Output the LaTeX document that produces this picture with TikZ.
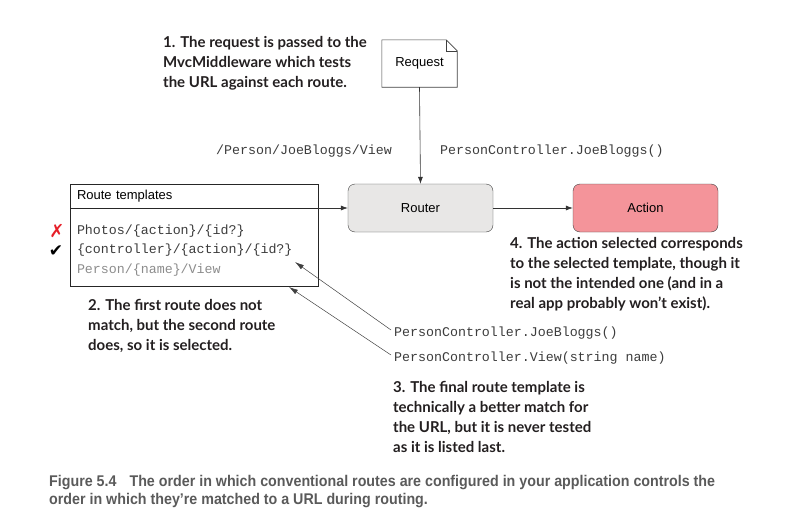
\documentclass[tikz,border=0pt]{standalone}
\usepackage{fontspec}
\setmainfont{Liberation Sans}
\setmonofont{Liberation Mono}
\newfontfamily\notefont{Lato}
\newfontfamily\symfont{DejaVu Sans}
\newfontfamily\capfont[FakeStretch=0.92]{Liberation Sans}
\usetikzlibrary{positioning,arrows.meta}
\definecolor{notetext}{RGB}{35,31,32}
\definecolor{routergray}{RGB}{232,231,230}
\definecolor{actionpink}{RGB}{244,148,154}
\definecolor{codegray}{RGB}{60,60,60}
\definecolor{fadegray}{RGB}{140,140,140}
\definecolor{capgray}{RGB}{90,90,90}
\definecolor{crossred}{RGB}{230,30,40}
\tikzset{
  flowbox/.style={draw=black!75, rounded corners=7pt, minimum width=145pt,
    minimum height=48pt, font=\fontsize{13}{15}\selectfont},
  note/.style={anchor=north west, align=left, text=notetext, inner sep=0pt,
    font=\notefont\bfseries\fontsize{15}{20}\selectfont},
  code/.style={text=codegray, inner sep=0pt, font=\ttfamily\fontsize{13.3}{16}\selectfont},
  link/.style={-{Latex[length=7pt,width=5pt]}, black!80, line width=0.6pt},
  thin link/.style={-{Latex[length=9pt,width=5pt]}, black!75, line width=0.5pt}
}
\begin{document}
\begin{tikzpicture}[x=1pt,y=-1pt]
  \useasboundingbox (0,0) rectangle (804,530);
  % request document
  \node[minimum width=75pt, minimum height=47pt, font=\fontsize{13}{15}\selectfont]
    (request) at (419.5,63.5) {Request};
  \draw[black!75, line width=0.6pt] (request.north west) -- ([xshift=-11pt]request.north east)
    -- ([yshift=-11pt]request.north east) -- (request.south east) -- (request.south west) -- cycle;
  \draw[black!75, line width=0.6pt] ([xshift=-11pt]request.north east)
    -- ([xshift=-11pt,yshift=-11pt]request.north east) -- ([yshift=-11pt]request.north east);
  % router and action
  \node[flowbox, fill=routergray] (router) at (420.5,208) {Router};
  \node[flowbox, fill=actionpink] (action) at (645.5,208) {Action};
  % route templates box
  \node[draw=black!85, line width=0.6pt, minimum width=248pt, minimum height=24pt,
    anchor=north west, inner xsep=7pt, text width=234pt, align=left, outer sep=0pt,
    font=\fontsize{13}{15}\selectfont] (head) at (70,184) {Route templates};
  \node[draw=black!85, line width=0.6pt, minimum width=248pt, minimum height=78pt,
    anchor=north, inner xsep=7pt, text width=234pt, align=left, below=0pt of head,
    outer sep=0pt, font=\ttfamily\fontsize{13.3}{19.5}\selectfont] (body)
    {\rule{0pt}{16pt}\textcolor{codegray}{Photos/\{action\}/\{id?\}}\\
     \textcolor{codegray}{\{controller\}/\{action\}/\{id?\}}\\
     \textcolor{fadegray}{Person/\{name\}/View}};
  \node[text=crossred, font=\symfont\fontsize{18}{18}\selectfont] (cross) at (57,231) {✗};
  \node[font=\symfont\fontsize{17}{17}\selectfont] (tick) at (56,251) {✔};
  % url and controller labels
  \node[code, anchor=east] (url) at (392,151) {/Person/JoeBloggs/View};
  \node[code, anchor=west] (ctrl) at (440,151) {PersonController.JoeBloggs()};
  \node[code, anchor=west] (ctrlA) at (394,333) {PersonController.JoeBloggs()};
  \node[code, anchor=west] (ctrlB) at (394,358) {PersonController.View(string name)};
  \coordinate (hitA) at (295,262);
  \coordinate (hitB) at (289,287);
  % connectors
  \draw[link] (request.south) -- (router.north);
  \draw[link] (head.south east) -- (router.west);
  \draw[link] (router.east) -- (action.west);
  \draw[thin link] ([xshift=-3pt,yshift=3pt]ctrlA.west) -- (hitA);
  \draw[thin link] ([xshift=-3pt,yshift=3pt]ctrlB.west) -- (hitB);
  % annotations
  \node[note] (noteA) at (163,36) {1. The request is passed to the\\MvcMiddleware which tests\\the URL against each route.};
  \node[note] (noteB) at (88,299) {2. The first route does not\\match, but the second route\\does, so it is selected.};
  \node[note] (noteC) at (393,381) {3. The final route template is\\technically a better match for\\the URL, but it is never tested\\as it is listed last.};
  \node[note] (noteD) at (510,237) {4. The action selected corresponds\\to the selected template, though it\\is not the intended one (and in a\\real app probably won’t exist).};
  % caption
  \node[anchor=north west, align=left, inner sep=0pt, text=capgray,
    font=\capfont\bfseries\fontsize{15.5}{18}\selectfont] (caption) at (49,475)
    {Figure 5.4\hspace{13pt}The order in which conventional routes are configured in your application controls the\\order in which they’re matched to a URL during routing.};
\end{tikzpicture}
\end{document}
